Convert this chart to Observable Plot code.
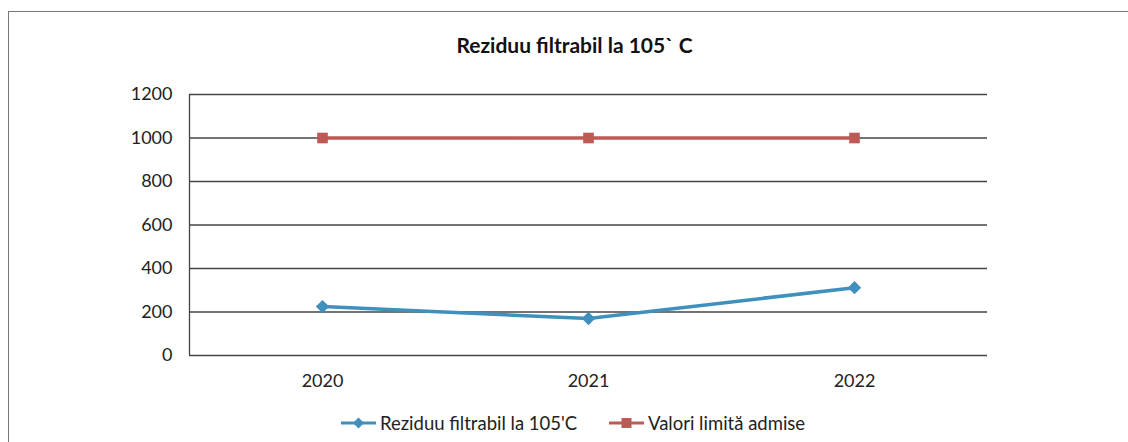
<!DOCTYPE html>
<html>
<head>
<meta charset="utf-8">
<script src="https://cdn.jsdelivr.net/npm/d3@7"></script>
<script src="https://cdn.jsdelivr.net/npm/@observablehq/plot@0.6"></script>
<style>
  html, body { margin: 0; padding: 0; background: #fff; overflow: hidden; }
  body { width: 1128px; height: 442px; position: relative; font-family: Lato, "Open Sans", sans-serif; color: #222; }
  #frame { position: absolute; left: 8px; top: 11px; width: 1200px; height: 500px; border: 1px solid #777; box-sizing: border-box; pointer-events: none; }
  #title { height: 70px; box-sizing: border-box; padding-top: 32px; padding-left: 21px; text-align: center; font-weight: bold; font-size: 21px; line-height: 25px; color: #111; }
  #chart { height: 330px; }
  #chart svg { display: block; }
  #legend { position: relative; height: 42px; font-size: 18.5px; color: #222; }
  .item { position: absolute; top: 11px; display: flex; align-items: center; height: 24px; white-space: nowrap; }
  .item svg { display: block; margin-right: 4px; }
</style>
</head>
<body>
<div id="frame"></div>
<div id="title">Reziduu filtrabil la 105` C</div>
<div id="chart"></div>
<div id="legend">
  <div class="item" style="left:341px">
    <svg width="35" height="14"><line x1="0" y1="7" x2="35" y2="7" stroke="#3f90bd" stroke-width="3"/><path d="M17.5,1.5 L23,7 L17.5,12.5 L12,7 Z" fill="#3f90bd"/></svg>
    <span>Reziduu filtrabil la 105'C</span>
  </div>
  <div class="item" style="left:609px">
    <svg width="35" height="14"><line x1="0" y1="7" x2="35" y2="7" stroke="#bd5a55" stroke-width="3"/><rect x="12.5" y="2" width="10" height="10" fill="#bd5a55"/></svg>
    <span>Valori limită admise</span>
  </div>
</div>
<script>
const years = [2020, 2021, 2022];
const reziduu = [225, 170, 312];
const limita = [1000, 1000, 1000];
const yTicks = [0, 200, 400, 600, 800, 1000, 1200];

const blueColor = "#3f90bd";
const redColor = "#bd5a55";

const blueData = years.map((y, i) => ({year: y, value: reziduu[i]}));
const redData = years.map((y, i) => ({year: y, value: limita[i]}));

const chart = Plot.plot({
  width: 1128,
  height: 330,
  marginLeft: 189,
  marginRight: 141,
  marginTop: 24,
  marginBottom: 45,
  style: { fontFamily: "Lato, 'Open Sans', sans-serif", fontSize: "18px", color: "#222", background: "transparent" },
  x: { type: "linear", domain: [2019.5, 2022.5] },
  y: { domain: [0, 1200] },
  marks: [
    Plot.ruleY(yTicks, { stroke: "#444", strokeWidth: 1.3 }),
    Plot.ruleX([2019.5], { y1: 0, y2: 1200, stroke: "#444", strokeWidth: 1.3 }),
    Plot.axisY(yTicks, { tickSize: 0, tickPadding: 17, label: null, tickFormat: d => String(d), fontSize: 18 }),
    Plot.axisX(years, { tickSize: 0, tickPadding: 19, label: null, tickFormat: d => String(d), fontSize: 18 }),
    Plot.line(redData, { x: "year", y: "value", stroke: redColor, strokeWidth: 3.5 }),
    Plot.dot(redData, { x: "year", y: "value", symbol: "square", r: 6, fill: redColor, stroke: "none" }),
    Plot.line(blueData, { x: "year", y: "value", stroke: blueColor, strokeWidth: 3.5 }),
    Plot.dot(blueData, { x: "year", y: "value", symbol: "diamond2", r: 6, fill: blueColor, stroke: "none" })
  ]
});
document.getElementById("chart").appendChild(chart);
</script>
</body>
</html>
